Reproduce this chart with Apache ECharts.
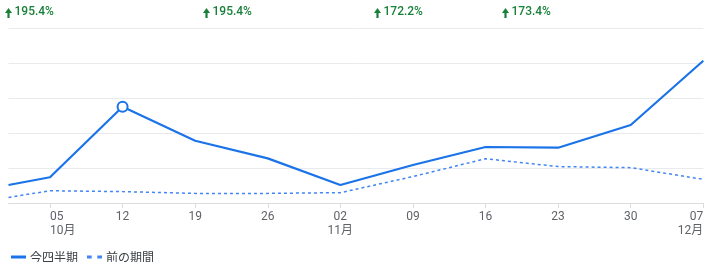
<!DOCTYPE html>
<html><head><meta charset="utf-8">
<script src="https://cdn.jsdelivr.net/npm/echarts@6/dist/echarts.min.js"></script>
<style>html,body{margin:0;padding:0;background:#fff}#c{width:708px;height:262px}</style>
</head><body><div id="c"></div>
<script>
// Day offsets from Oct 1
const days = [0, 4, 11, 18, 25, 32, 39, 46, 53, 60, 67];
const currentQuarter = [10.3, 14.7, 55.0, 35.6, 25.5, 10.3, 21.7, 32.0, 31.6, 44.6, 81.3];
const previousPeriod = [3.2, 7.0, 6.5, 5.5, 5.5, 5.9, 15.1, 25.3, 20.8, 20.2, 13.5];
const tickDays = [4, 11, 18, 25, 32, 39, 46, 53, 60, 67];
const tickLabels = ['05\n10月', '12', '19', '26', '02\n11月', '09', '16', '23', '30', '07\n12月'];
const seriesNames = ['今四半期', '前の期間'];
const changes = ['195.4%', '195.4%', '172.2%', '173.4%'];
const highlightIndex = 2;

const blue = '#1a73e8';
const green = '#188038';
const annX = [4, 202, 373, 501];

const chart = echarts.init(document.getElementById('c'));
const curData = days.map((d, i) => {
  const item = { value: [d, currentQuarter[i]] };
  if (i === highlightIndex) {
    item.symbol = 'circle';
    item.symbolSize = 10;
    item.itemStyle = { color: '#fff', borderColor: blue, borderWidth: 2 };
  }
  return item;
});
const prevData = days.map((d, i) => [d, previousPeriod[i]]);

const graphics = [];
changes.forEach((t, i) => {
  graphics.push({
    type: 'group', left: annX[i] + 1, top: 8,
    children: [
      { type: 'polygon', shape: { points: [[0, 5], [3.5, 0], [7, 5]] }, style: { fill: green } },
      { type: 'rect', shape: { x: 2.4, y: 4.5, width: 2.2, height: 5.5 }, style: { fill: green } }
    ]
  });
  graphics.push({
    type: 'text', left: annX[i] + 10.5, top: 6,
    style: { text: t, fill: green, font: '500 12px Roboto' }
  });
});

const labelBase = { color: '#5f6368', fontSize: 12, margin: 7, lineHeight: 14, hideOverlap: false };
const lastK = tickDays.length - 1;
function hiddenAxis(vals, align) {
  return {
    type: 'value', min: 0, max: 67, position: 'bottom',
    axisLine: { show: false }, axisTick: { show: false }, splitLine: { show: false },
    axisLabel: Object.assign({}, labelBase, {
      customValues: vals, align: align,
      formatter: (v) => { const k = tickDays.indexOf(Math.round(v)); return k >= 0 ? tickLabels[k] : ''; }
    })
  };
}

chart.setOption({
  animation: false,
  textStyle: { fontFamily: 'Roboto, "Noto Sans CJK JP", sans-serif' },
  grid: { left: 8.5, right: 4.7, top: 28, bottom: 59, containLabel: false, outerBoundsMode: 'none' },
  graphic: graphics,
  legend: {
    left: 6, top: 246, itemGap: 9, itemWidth: 15, itemHeight: 3,
    textStyle: { color: '#3c4043', fontSize: 12, fontFamily: '"Noto Sans CJK JP", Roboto, sans-serif', padding: [0, 0, 0, -1] },
    data: [
      { name: seriesNames[0], icon: 'rect' },
      { name: seriesNames[1], icon: 'path://M0,0h5v3h-5z M11,0h5v3h-5z' }
    ]
  },
  xAxis: [
    {
      type: 'value', min: 0, max: 67, position: 'bottom',
      axisLine: { lineStyle: { color: '#dadce0', width: 1 } },
      axisTick: { show: true, length: 5, lineStyle: { color: '#dadce0' }, customValues: tickDays },
      splitLine: { show: false },
      axisLabel: Object.assign({}, labelBase, {
        customValues: tickDays.slice(1, lastK),
        formatter: (v) => { const k = tickDays.indexOf(Math.round(v)); return k >= 0 ? tickLabels[k] : ''; }
      })
    },
    hiddenAxis([tickDays[0]], 'left'),
    hiddenAxis([tickDays[lastK]], 'right')
  ],
  yAxis: {
    type: 'value', min: 0, max: 100, interval: 20,
    axisLabel: { show: false }, axisLine: { show: false }, axisTick: { show: false },
    splitLine: { lineStyle: { color: '#e8eaed', width: 1 } }
  },
  series: [
    {
      name: seriesNames[1], type: 'line', data: prevData, symbol: 'none', xAxisIndex: 0,
      lineStyle: { color: '#4285f4', width: 1.5, type: [3, 3] },
      itemStyle: { color: '#4285f4' }, z: 2
    },
    {
      name: seriesNames[0], type: 'line', data: curData, symbol: 'none', showSymbol: true, xAxisIndex: 0,
      lineStyle: { color: blue, width: 2.2 }, itemStyle: { color: blue }, z: 3
    }
  ]
});
</script></body></html>
